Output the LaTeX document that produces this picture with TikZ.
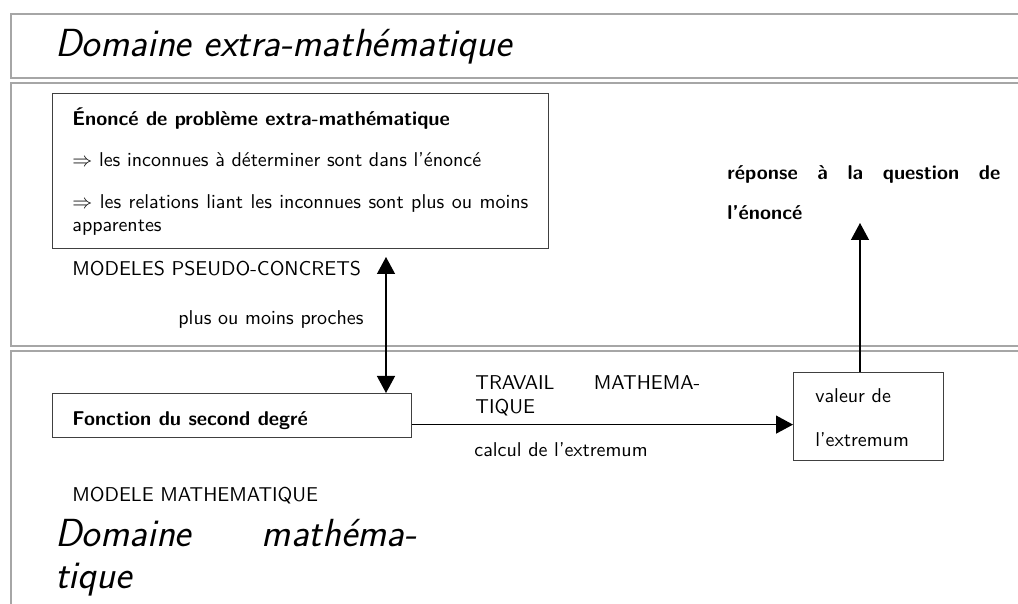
\documentclass[tikz,border=0pt]{standalone}
\usetikzlibrary{arrows.meta}
\begin{document}
\begin{tikzpicture}[x=0.5pt,y=-0.5pt,
  panel/.style={draw=gray!70, line width=1.2pt},
  box/.style={draw=black!75, line width=0.6pt, inner sep=0pt},
  txt/.style={font=\sffamily\fontsize{10}{12}\selectfont, inner sep=0pt, anchor=base west},
  btxt/.style={txt, font=\sffamily\bfseries\fontsize{10}{12}\selectfont},
  big/.style={inner sep=0pt, anchor=base west, font=\sffamily\itshape\fontsize{19.6}{23}\selectfont},
  tip/.tip={Triangle[length=8.5pt,width=9pt]},
  arr/.style={line width=0.65pt, -tip},
  darr/.style={line width=0.65pt, tip-tip}]
\useasboundingbox (0,0) rectangle (1018,604);
% panels
\draw[panel] (1018,14) -- (11,14) -- (11,78) -- (1018,78);
\draw[panel] (1018,83) -- (11,83) -- (11,346) -- (1018,346);
\draw[panel] (1018,351) -- (11,351) -- (11,604);
% titles
\node[big] (title1) at (55,57) {Domaine extra-mathématique};
\node[big] (title2a) at (55,546) {Domaine};
\node[big, anchor=base east] (title2b) at (417,546) {mathéma-};
\node[big] (title2c) at (55,588) {tique};
% enonce box
\node[box, anchor=north west, minimum width=248pt, minimum height=77.5pt] (enonce) at (52,93) {};
\node[btxt] (e1) at (72,126) {Énoncé de problème extra-mathématique};
\node[txt] (e2) at (72,167) {$\Rightarrow$ les inconnues à déterminer sont dans l'énoncé};
\node[txt] (e3) at (72,209) {\makebox[228pt][s]{$\Rightarrow$ les relations liant les inconnues sont plus ou moins}};
\node[txt] (e4) at (72,232) {apparentes};
\node[txt] (m1) at (72,276) {MODELES PSEUDO-CONCRETS};
\node[txt] (m2) at (178,325) {plus ou moins proches};
% reponse
\node[btxt] (r1) at (727,180) {\makebox[136.5pt][s]{réponse à la question de}};
\node[btxt] (r2) at (727,220) {l'énoncé};
% fonction box
\node[box, anchor=north west, minimum width=179.5pt, minimum height=22pt] (fonc) at (52,393) {};
\node[btxt] (f1) at (72,425) {Fonction du second degré};
% valeur box
\node[box, anchor=north west, minimum width=75pt, minimum height=44pt] (val) at (793,372) {};
\node[txt] (v1) at (815,402) {valeur de};
\node[txt] (v2) at (815,446) {l'extremum};
% travail
\node[txt] (w1) at (475,390) {\makebox[112.5pt][s]{TRAVAIL MATHEMA-}};
\node[txt] (w2) at (475,414) {TIQUE};
\node[txt] (w3) at (474,456) {calcul de l'extremum};
\node[txt] (mm) at (72,502) {MODELE MATHEMATIQUE};
% arrows
\coordinate (ptop) at (386,257);
\draw[darr] (ptop) -- (ptop |- fonc.north);
\draw[arr] ([yshift=-4.5pt]fonc.east) -- ([yshift=-4.5pt]fonc.east -| val.west);
\coordinate (rtop) at (860,223);
\draw[arr] (val.north -| rtop) -- (rtop);
\end{tikzpicture}
\end{document}
